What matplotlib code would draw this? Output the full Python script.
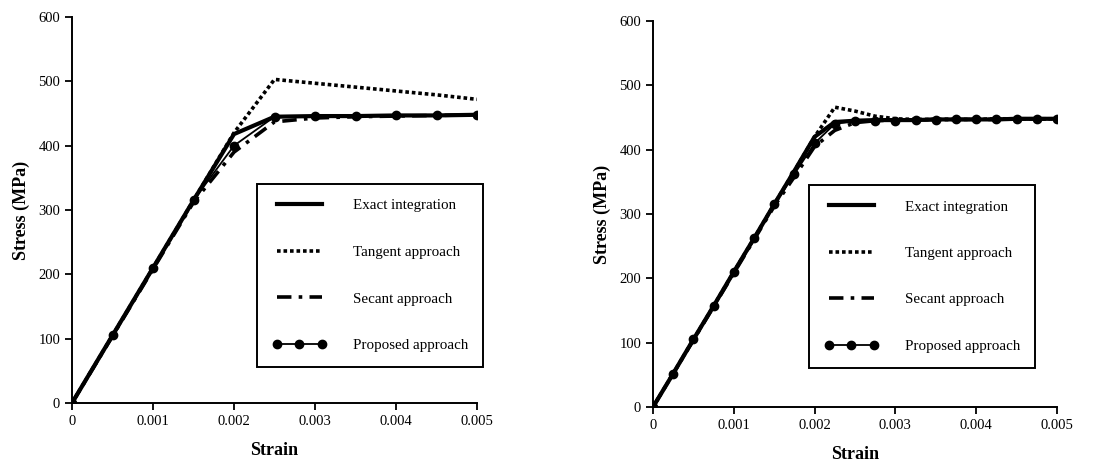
import matplotlib
matplotlib.use("Agg")
import matplotlib.pyplot as plt

plt.rcParams['font.family'] = ['Liberation Serif', 'DejaVu Serif']

# left panel (strain increment 0.0005)
strain_a = [0, 0.0005, 0.001, 0.0015, 0.002, 0.0025, 0.003, 0.0035, 0.004, 0.0045, 0.005]
exact_a = [0, 105, 210, 315, 418, 445, 446, 446, 447, 447, 448]
tangent_a = [0, 105, 210, 315, 420, 503, 497, 491, 485, 479, 472]
secant_a = [0, 104, 208, 312, 390, 437, 443, 445, 446, 447, 448]
proposed_a = [0, 105, 210, 315, 400, 445, 446, 446, 447, 447, 448]

# right panel (strain increment 0.00025)
strain_b = [0, 0.00025, 0.0005, 0.00075, 0.001, 0.00125, 0.0015, 0.00175, 0.002,
            0.00225, 0.0025, 0.00275, 0.003, 0.00325, 0.0035, 0.00375, 0.004,
            0.00425, 0.0045, 0.00475, 0.005]
exact_b = [0, 52, 105, 157, 210, 262, 315, 367, 420, 443, 445, 446, 446, 446, 447,
           447, 447, 447, 448, 448, 448]
tangent_b = [0, 52, 105, 157, 210, 262, 315, 367, 420, 466, 460, 452, 448, 447, 447,
             447, 447, 448, 448, 448, 448]
secant_b = [0, 52, 104, 156, 208, 260, 312, 358, 405, 430, 442, 445, 446, 446, 447,
            447, 447, 447, 448, 448, 448]
proposed_b = [0, 52, 105, 157, 210, 262, 315, 362, 410, 440, 445, 445, 445, 446, 446,
              447, 447, 447, 448, 448, 448]

labels = ["Exact integration", "Tangent approach", "Secant approach", "Proposed approach"]
xticks = [0, 0.001, 0.002, 0.003, 0.004, 0.005]
xticklabels = ["0", "0.001", "0.002", "0.003", "0.004", "0.005"]
yticks = [0, 100, 200, 300, 400, 500, 600]

W, H = 1102, 470
fig = plt.figure(figsize=(W / 100, H / 100), dpi=100)


def draw_panel(rect, legend_xy, x, exact, tangent, secant, proposed):
	ax = fig.add_axes(rect)
	ax.plot(x, exact, "-", color="black", lw=3.0, label=labels[0])
	ax.plot(x, tangent, color="black", lw=2.6, linestyle=(0, (1, 0.8)), label=labels[1])
	ax.plot(x, secant, color="black", lw=2.6, linestyle=(0, (4, 2, 1, 2)), label=labels[2])
	ax.plot(x, proposed, "-o", color="black", lw=1.3, markersize=6, label=labels[3])

	ax.set_xlim(0, 0.005)
	ax.set_ylim(0, 600)
	ax.set_xticks(xticks)
	ax.set_xticklabels(xticklabels)
	ax.set_yticks(yticks)
	ax.tick_params(direction="out", length=5, width=1.3, labelsize=10.5)
	for s in ["top", "right"]:
		ax.spines[s].set_visible(False)
	for s in ["left", "bottom"]:
		ax.spines[s].set_linewidth(1.4)
	ax.set_xlabel("Strain", fontsize=13, fontweight="bold", labelpad=10)
	ax.set_ylabel("Stress (MPa)", fontsize=13, fontweight="bold", labelpad=6)

	leg = ax.legend(loc="upper left", bbox_to_anchor=legend_xy, bbox_transform=fig.transFigure,
	                fontsize=10.8, handlelength=3.6, handletextpad=1.8, labelspacing=2.2,
	                borderpad=1.0, borderaxespad=0, numpoints=3, fancybox=False,
	                framealpha=1, edgecolor="black")
	leg.get_frame().set_linewidth(1.4)
	return ax


draw_panel([72 / W, 1 - 403 / H, 405 / W, 386 / H], (257 / W, 1 - 184 / H),
           strain_a, exact_a, tangent_a, secant_a, proposed_a)
draw_panel([653 / W, 1 - 407 / H, 404 / W, 386 / H], (809 / W, 1 - 185 / H),
           strain_b, exact_b, tangent_b, secant_b, proposed_b)

fig.savefig("out.png", dpi=100)
